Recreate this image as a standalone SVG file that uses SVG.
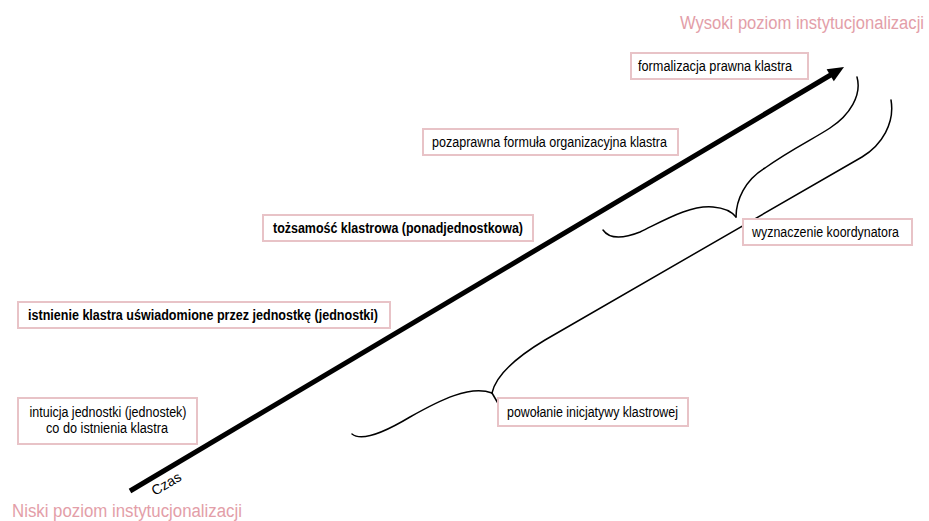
<svg xmlns="http://www.w3.org/2000/svg" width="929" height="521" viewBox="0 0 929 521">
  <style>
    .box { fill: #ffffff; stroke: #e8c3c7; stroke-width: 2; }
    .lbl { font-family: "Liberation Sans", Arial, sans-serif; font-size: 14px; fill: #000000; }
    .bold { font-weight: bold; }
    .level { font-family: "Liberation Sans", Arial, sans-serif; font-size: 18px; fill: #e39ea8; }
    .brace { fill: none; stroke: #000000; stroke-width: 1.5; stroke-linecap: round; }
  </style>

  <rect width="929" height="521" fill="#ffffff"/>

  <!-- level captions -->
  <text class="level" x="924" y="29" text-anchor="end" textLength="244" lengthAdjust="spacingAndGlyphs">Wysoki poziom instytucjonalizacji</text>
  <text class="level" x="12" y="517" textLength="230" lengthAdjust="spacingAndGlyphs">Niski poziom instytucjonalizacji</text>

  <!-- connectors: time axis and braces -->
  <g id="connectors">
    <line x1="130" y1="491" x2="834" y2="73" stroke="#000000" stroke-width="5"/>
    <polygon points="844,67 833.8,81.2 826.6,69.2" fill="#000000"/>
    <text class="lbl" font-size="11.5" transform="translate(155,496) rotate(-30.7)">Czas</text>

    <!-- upper brace -->
    <path class="brace" d="M603,230 C610,240 625,238 640,232 C665,220 690,205 713,207 C725,208 732,212 736,217"/>
    <path class="brace" d="M736,217 C736,200 745,180 765,168 C790,150 815,138 830,128 C850,115 862,95 857,77"/>

    <!-- lower brace -->
    <path class="brace" d="M352,434 C362,442 385,432 410,417 C440,400 470,385 492,393"/>
    <path class="brace" d="M492,393 L499,405"/>
    <path class="brace" d="M492,393 C496,375 515,358 545,340 L862,157 C882,145 895,123 891,100"/>
  </g>

  <g id="n-formalizacja">
    <rect class="box" x="631" y="53" width="177" height="26"/>
    <text class="lbl" x="638" y="71" textLength="154" lengthAdjust="spacingAndGlyphs">formalizacja prawna klastra</text>
  </g>

  <g id="n-pozaprawna">
    <rect class="box" x="423" y="129" width="255" height="26"/>
    <text class="lbl" x="432" y="147" textLength="235" lengthAdjust="spacingAndGlyphs">pozaprawna formuła organizacyjna klastra</text>
  </g>

  <g id="n-tozsamosc">
    <rect class="box" x="263" y="215" width="270" height="26"/>
    <text class="lbl bold" x="273" y="233" textLength="250" lengthAdjust="spacingAndGlyphs">tożsamość klastrowa (ponadjednostkowa)</text>
  </g>

  <g id="n-istnienie">
    <rect class="box" x="18" y="302" width="372" height="26"/>
    <text class="lbl bold" x="28" y="320" textLength="350" lengthAdjust="spacingAndGlyphs">istnienie klastra uświadomione przez jednostkę (jednostki)</text>
  </g>

  <g id="n-intuicja">
    <rect class="box" x="18" y="398" width="179" height="46"/>
    <text class="lbl" x="108" y="417" text-anchor="middle" textLength="157" lengthAdjust="spacingAndGlyphs">intuicja jednostki (jednostek)</text>
    <text class="lbl" x="107" y="433" text-anchor="middle" textLength="122" lengthAdjust="spacingAndGlyphs">co do istnienia klastra</text>
  </g>

  <g id="n-koordynator">
    <rect class="box" x="743" y="219" width="169" height="26"/>
    <text class="lbl" x="752" y="237" textLength="147" lengthAdjust="spacingAndGlyphs">wyznaczenie koordynatora</text>
  </g>

  <g id="n-inicjatywa">
    <rect class="box" x="498" y="398" width="190" height="28"/>
    <text class="lbl" x="507" y="417" textLength="171" lengthAdjust="spacingAndGlyphs">powołanie inicjatywy klastrowej</text>
  </g>
</svg>
